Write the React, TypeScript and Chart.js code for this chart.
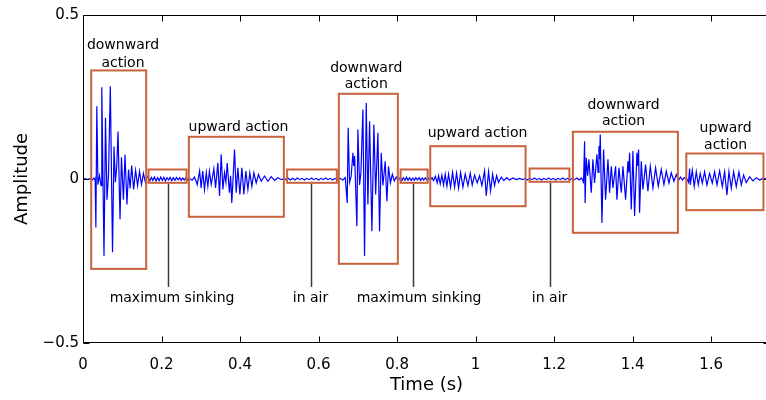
import { useEffect, useRef } from "react";
import { Chart, registerables } from "chart.js";

Chart.register(...registerables);

const FONT = "'DejaVu Sans', sans-serif";
const WAVE_COLOR = "#0000ff";
const BOX_COLOR = "#c8623c";
const LEADER_COLOR = "#3a3a3a";

type P = [number, number];

// ---- waveform samples (time s, amplitude) ----
const leadIn: P[] = [
  [0, 0], [0.006, 0.001], [0.012, -0.002], [0.018, 0.002], [0.024, -0.002], [0.028, 0.003], [0.031, -0.004],
];

const downward1: P[] = [
  [0.0325, 0.008], [0.0331, -0.148], [0.0352, 0.222], [0.038, -0.017], [0.042, 0.011], [0.046, -0.02],
  [0.0479, 0.28], [0.0535, -0.235], [0.0573, 0.187], [0.0611, -0.063], [0.065, 0.014], [0.0696, 0.283],
  [0.0752, -0.223], [0.079, 0.099], [0.0825, -0.01], [0.086, 0.04], [0.0892, 0.145], [0.0943, -0.123],
  [0.098, 0.066], [0.103, -0.063], [0.107, 0.075], [0.112, -0.078], [0.116, 0.029], [0.12, -0.029],
  [0.124, 0.041], [0.129, -0.032], [0.134, 0.026], [0.139, -0.02], [0.144, 0.023], [0.149, -0.017],
  [0.154, 0.017], [0.159, -0.011], [0.163, 0.009],
];

const maxSinking1: P[] = [
  [0.166, 0.004], [0.17, -0.006], [0.174, 0.005], [0.178, -0.004], [0.182, 0.006], [0.186, -0.006],
  [0.19, 0.004], [0.194, -0.005], [0.198, 0.006], [0.202, -0.004], [0.206, 0.005], [0.21, -0.006],
  [0.214, 0.004], [0.218, -0.003], [0.222, 0.005], [0.226, -0.005], [0.23, 0.004], [0.234, -0.004],
  [0.238, 0.005], [0.242, -0.003], [0.246, 0.004], [0.25, -0.004], [0.254, 0.003], [0.258, -0.003],
  [0.262, 0.004], [0.266, -0.003],
];

const upward1: P[] = [
  [0.27, 0.002], [0.278, -0.004], [0.284, 0.006], [0.291, -0.017], [0.297, 0.024], [0.301, -0.027],
  [0.305, 0.024], [0.3095, -0.032], [0.314, 0.019], [0.318, -0.022], [0.322, 0.024], [0.3266, -0.017],
  [0.3333, 0.031], [0.3376, -0.027], [0.3435, 0.049], [0.3478, -0.052], [0.352, 0.075], [0.3563, -0.032],
  [0.3605, 0.019], [0.364, -0.01], [0.3673, 0.049], [0.373, -0.042], [0.376, 0.01], [0.379, -0.073],
  [0.386, 0.09], [0.3902, -0.042], [0.3945, 0.034], [0.3996, -0.047], [0.4047, 0.034], [0.4098, -0.047],
  [0.4149, 0.024], [0.42, -0.032], [0.425, 0.019], [0.4301, -0.022], [0.4353, 0.019], [0.4412, -0.012],
  [0.4471, 0.014], [0.454, -0.007], [0.4625, 0.009], [0.4709, -0.007], [0.4794, 0.007], [0.488, -0.004],
  [0.4964, 0.004], [0.505, -0.002], [0.5134, 0.002],
];

const inAir1: P[] = [
  [0.517, -0.002], [0.522, 0.003], [0.528, -0.003], [0.534, 0.002], [0.54, -0.003], [0.546, 0.003],
  [0.552, -0.002], [0.558, 0.002], [0.564, -0.003], [0.57, 0.002], [0.576, -0.002], [0.582, 0.003],
  [0.588, -0.002], [0.594, 0.002], [0.6, -0.003], [0.606, 0.002], [0.612, -0.002], [0.618, 0.003],
  [0.624, -0.002], [0.63, 0.002], [0.636, -0.003], [0.642, 0.002], [0.648, -0.002],
];

const downward2: P[] = [
  [0.655, 0.002], [0.662, -0.003], [0.668, 0.004], [0.673, -0.073], [0.6755, 0.156], [0.679, -0.01],
  [0.683, 0.008], [0.6875, 0.08], [0.6895, 0.04], [0.692, 0.07], [0.6977, -0.144], [0.7002, 0.151],
  [0.7045, -0.018], [0.708, 0.02], [0.713, 0.212], [0.7172, -0.235], [0.7215, 0.232], [0.7257, -0.078],
  [0.73, 0.176], [0.7359, -0.159], [0.741, 0.166], [0.7455, -0.047], [0.7512, 0.141], [0.7554, -0.159],
  [0.7597, 0.08], [0.764, -0.02], [0.7698, 0.054], [0.774, -0.068], [0.7783, 0.039], [0.783, -0.012],
  [0.788, 0.014], [0.793, -0.006], [0.798, 0.006], [0.803, -0.004],
];

const maxSinking2: P[] = [
  [0.808, 0.004], [0.812, -0.005], [0.816, 0.004], [0.82, -0.004], [0.824, 0.005], [0.828, -0.004],
  [0.832, 0.004], [0.836, -0.005], [0.84, 0.003], [0.844, -0.004], [0.848, 0.004], [0.852, -0.003],
  [0.856, 0.004], [0.86, -0.004], [0.864, 0.003], [0.868, -0.003], [0.872, 0.004], [0.876, -0.003],
  [0.88, 0.003],
];

const upward2: P[] = [
  [0.885, -0.003], [0.889, 0.004], [0.893, -0.005], [0.8975, 0.008], [0.9023, -0.012], [0.9057, 0.01],
  [0.91, -0.015], [0.9142, 0.012], [0.9185, -0.018], [0.9227, 0.015], [0.927, -0.022], [0.9312, 0.015],
  [0.9363, -0.025], [0.9414, 0.02], [0.9465, -0.025], [0.9516, 0.018], [0.9567, -0.028], [0.9618, 0.02],
  [0.9677, -0.025], [0.9737, 0.015], [0.9805, -0.02], [0.9864, 0.018], [0.9915, -0.018], [0.9975, 0.012],
  [1.0042, -0.012], [1.0102, 0.01], [1.0161, -0.02], [1.0229, 0.025], [1.0272, -0.051], [1.0331, 0.022],
  [1.0382, -0.036], [1.0433, 0.015], [1.0484, -0.02], [1.0535, 0.01], [1.0586, -0.01], [1.0654, 0.006],
  [1.0722, -0.005], [1.079, 0.004], [1.0866, -0.003], [1.0951, 0.003], [1.1036, -0.002], [1.1121, 0.002],
  [1.1206, -0.002],
];

const inAir2: P[] = [
  [1.126, 0.002], [1.132, -0.003], [1.138, 0.002], [1.144, -0.002], [1.15, 0.003], [1.156, -0.002],
  [1.162, 0.002], [1.168, -0.003], [1.174, 0.002], [1.18, -0.002], [1.186, 0.003], [1.192, -0.002],
  [1.198, 0.002], [1.204, -0.003], [1.21, 0.002], [1.216, -0.002], [1.222, 0.003], [1.228, -0.002],
  [1.234, 0.002], [1.24, -0.003], [1.246, 0.002],
];

const downward3: P[] = [
  [1.252, -0.002], [1.258, 0.003], [1.264, -0.003], [1.27, 0.003], [1.275, -0.01], [1.2777, 0.115],
  [1.279, -0.073], [1.2819, 0.065], [1.2855, 0.01], [1.2887, 0.06], [1.2947, -0.042], [1.2989, 0.06],
  [1.3031, -0.012], [1.3091, 0.075], [1.312, 0.02], [1.3142, 0.1], [1.3158, 0.06], [1.3176, 0.136],
  [1.3219, -0.134], [1.3261, 0.09], [1.3312, -0.063], [1.3372, 0.06], [1.3414, -0.042], [1.3457, 0.039],
  [1.35, -0.027], [1.3567, 0.039], [1.3601, -0.063], [1.3652, 0.034], [1.3712, -0.042], [1.3754, 0.039],
  [1.3822, -0.063], [1.3881, 0.054], [1.3902, 0.02], [1.3924, 0.08], [1.3966, -0.093], [1.4008, 0.085],
  [1.4051, -0.113], [1.411, 0.08], [1.4132, 0.04], [1.4153, 0.09], [1.4178, -0.103], [1.4221, 0.054],
  [1.4263, -0.032], [1.4331, 0.044], [1.439, -0.037], [1.445, 0.039], [1.4518, -0.027], [1.4586, 0.034],
  [1.4654, -0.022], [1.473, 0.029], [1.4798, -0.017], [1.4858, 0.024], [1.4926, -0.012], [1.4985, 0.019],
  [1.5053, -0.007], [1.5113, 0.014], [1.517, -0.004], [1.522, 0.006], [1.527, -0.003], [1.532, 0.004],
];

const upward3: P[] = [
  [1.537, 0.003], [1.5425, -0.01], [1.5452, 0.032], [1.5469, -0.018], [1.552, 0.027], [1.557, -0.023],
  [1.5622, 0.022], [1.5673, -0.018], [1.5724, 0.017], [1.5775, -0.013], [1.5834, 0.022], [1.5894, -0.018],
  [1.5962, 0.017], [1.603, -0.013], [1.6089, 0.022], [1.6149, -0.018], [1.6217, 0.025], [1.6285, -0.023],
  [1.6344, 0.022], [1.6403, -0.049], [1.6454, 0.022], [1.6514, -0.028], [1.6573, 0.022], [1.6641, -0.023],
  [1.6709, 0.022], [1.6769, -0.018], [1.6828, 0.012], [1.6896, -0.011], [1.6981, 0.007], [1.7066, -0.006],
  [1.7151, 0.004], [1.7236, -0.003], [1.7321, 0.002], [1.75, 0],
];

// ---- annotation boxes (time range, amplitude range) ----
const boxes = [
  { t0: 0.0209, t1: 0.161, a0: -0.274, a1: 0.331 },
  { t0: 0.167, t1: 0.2637, a0: -0.0116, a1: 0.029 },
  { t0: 0.2696, t1: 0.5116, a0: -0.1152, a1: 0.1287 },
  { t0: 0.52, t1: 0.6466, a0: -0.0116, a1: 0.029 },
  { t0: 0.6517, t1: 0.802, a0: -0.2585, a1: 0.2598 },
  { t0: 0.809, t1: 0.878, a0: -0.0116, a1: 0.029 },
  { t0: 0.8846, t1: 1.1274, a0: -0.083, a1: 0.1 },
  { t0: 1.1376, t1: 1.239, a0: -0.0085, a1: 0.032 },
  { t0: 1.2479, t1: 1.5154, a0: -0.164, a1: 0.144 },
  { t0: 1.5368, t1: 1.7333, a0: -0.095, a1: 0.0777 },
];

const boxLabels = [
  { t: 0.1019, a: 0.407, text: "downward" },
  { t: 0.1019, a: 0.352, text: "action" },
  { t: 0.396, a: 0.157, text: "upward action" },
  { t: 0.7215, a: 0.337, text: "downward" },
  { t: 0.7215, a: 0.288, text: "action" },
  { t: 1.005, a: 0.139, text: "upward action" },
  { t: 1.377, a: 0.224, text: "downward" },
  { t: 1.377, a: 0.175, text: "action" },
  { t: 1.637, a: 0.154, text: "upward" },
  { t: 1.637, a: 0.102, text: "action" },
];

const leaders = [
  { t: 0.2153, a0: -0.0116, a1: -0.329, textT: 0.2268, textA: -0.364, text: "maximum sinking" },
  { t: 0.5796, a0: -0.0116, a1: -0.329, textT: 0.5796, textA: -0.364, text: "in air" },
  { t: 0.8395, a0: -0.0116, a1: -0.329, textT: 0.856, textA: -0.364, text: "maximum sinking" },
  { t: 1.1885, a0: -0.0085, a1: -0.329, textT: 1.1885, textA: -0.364, text: "in air" },
];

const xTickValues = [0, 0.2, 0.4, 0.6, 0.8, 1, 1.2, 1.4, 1.6];
const yTickValues = [-0.5, 0, 0.5];

const overlay = {
  id: "overlay",
  afterDatasetsDraw(chart: any) {
    const { ctx, chartArea, scales } = chart;
    const { left, top, right, bottom } = chartArea;
    const xs = scales.x;
    const ys = scales.y;
    ctx.save();

    // boxes
    ctx.strokeStyle = BOX_COLOR;
    ctx.lineWidth = 2;
    for (const b of boxes) {
      const x0 = xs.getPixelForValue(b.t0);
      const x1 = xs.getPixelForValue(b.t1);
      const y0 = ys.getPixelForValue(b.a1);
      const y1 = ys.getPixelForValue(b.a0);
      ctx.strokeRect(x0, y0, x1 - x0, y1 - y0);
    }

    // leaders
    ctx.strokeStyle = LEADER_COLOR;
    ctx.lineWidth = 1.5;
    for (const l of leaders) {
      const x = Math.round(xs.getPixelForValue(l.t)) + 0.5;
      ctx.beginPath();
      ctx.moveTo(x, ys.getPixelForValue(l.a0) + 1);
      ctx.lineTo(x, ys.getPixelForValue(l.a1));
      ctx.stroke();
    }

    // texts
    ctx.fillStyle = "#000";
    ctx.font = `14px ${FONT}`;
    ctx.textAlign = "center";
    ctx.textBaseline = "middle";
    for (const l of boxLabels) {
      ctx.fillText(l.text, xs.getPixelForValue(l.t), ys.getPixelForValue(l.a));
    }
    for (const l of leaders) {
      ctx.fillText(l.text, xs.getPixelForValue(l.textT), ys.getPixelForValue(l.textA));
    }

    // frame
    ctx.strokeStyle = "#000";
    ctx.lineWidth = 1;
    const L = Math.round(left) + 0.5;
    const T = Math.round(top) + 0.5;
    const R = Math.round(right) - 0.5;
    const B = Math.round(bottom) - 0.5;
    ctx.strokeRect(L, T, R - L, B - T);

    // inward ticks
    const tl = 6;
    ctx.beginPath();
    for (const v of xTickValues) {
      const x = Math.round(xs.getPixelForValue(v)) + 0.5;
      ctx.moveTo(x, B);
      ctx.lineTo(x, B - tl);
      ctx.moveTo(x, T);
      ctx.lineTo(x, T + tl);
    }
    for (const v of yTickValues) {
      const y = Math.round(ys.getPixelForValue(v)) + 0.5;
      ctx.moveTo(L, y);
      ctx.lineTo(L + tl, y);
      ctx.moveTo(R, y);
      ctx.lineTo(R - tl, y);
    }
    ctx.stroke();
    ctx.restore();
  },
};

export default function App() {
  const ref = useRef<HTMLCanvasElement | null>(null);

  useEffect(() => {
    if (!ref.current) return;
    const signal = [
      ...leadIn, ...downward1, ...maxSinking1, ...upward1, ...inAir1, ...downward2,
      ...maxSinking2, ...upward2, ...inAir2, ...downward3, ...upward3,
    ].map(([x, y]) => ({ x, y }));

    const chart = new Chart(ref.current, {
      type: "line",
      data: {
        datasets: [
          {
            data: signal,
            borderColor: WAVE_COLOR,
            borderWidth: 1.2,
            pointRadius: 0,
            tension: 0,
            fill: false,
          },
        ],
      },
      options: {
        animation: false,
        responsive: false,
        devicePixelRatio: 1,
        layout: { padding: { top: 15, right: 2, left: 0, bottom: 0 } },
        plugins: { legend: { display: false }, tooltip: { enabled: false } },
        scales: {
          x: {
            type: "linear",
            min: 0,
            max: 1.75,
            grid: { display: false, drawTicks: false },
            border: { display: false },
            afterFit: (s: any) => {
              s.height = 57;
            },
            ticks: {
              stepSize: 0.2,
              includeBounds: false,
              autoSkip: false,
              maxRotation: 0,
              padding: 13,
              color: "#000",
              font: { family: FONT, size: 15 },
              callback: (v: any) => {
                const n = Number(v);
                return Math.abs(n) < 1e-9 ? "0" : String(+n.toFixed(1));
              },
            },
            title: {
              display: true,
              text: "Time (s)",
              color: "#000",
              font: { family: FONT, size: 18 },
              padding: { top: 0, bottom: 4 },
            },
          },
          y: {
            min: -0.5,
            max: 0.5,
            grid: { display: false, drawTicks: false },
            border: { display: false },
            afterFit: (s: any) => {
              s.width = 83;
            },
            ticks: {
              stepSize: 0.5,
              padding: 4,
              color: "#000",
              font: { family: FONT, size: 15 },
              callback: (v: any) => {
                const n = Number(v);
                if (Math.abs(n) < 1e-9) return "0";
                return n < 0 ? "\u2212" + String(Math.abs(n)) : String(n);
              },
            },
            title: {
              display: true,
              text: "Amplitude",
              color: "#000",
              font: { family: FONT, size: 18 },
              padding: { top: 12, bottom: 0 },
            },
          },
        },
      },
      plugins: [overlay],
    });
    return () => chart.destroy();
  }, []);

  return (
    <div
      style={{
        position: "fixed",
        left: 0,
        top: 0,
        width: 766,
        height: 400,
        overflow: "hidden",
        background: "#fff",
      }}
    >
      <canvas ref={ref} width={772} height={400} style={{ width: 772, height: 400, display: "block" }} />
    </div>
  );
}
